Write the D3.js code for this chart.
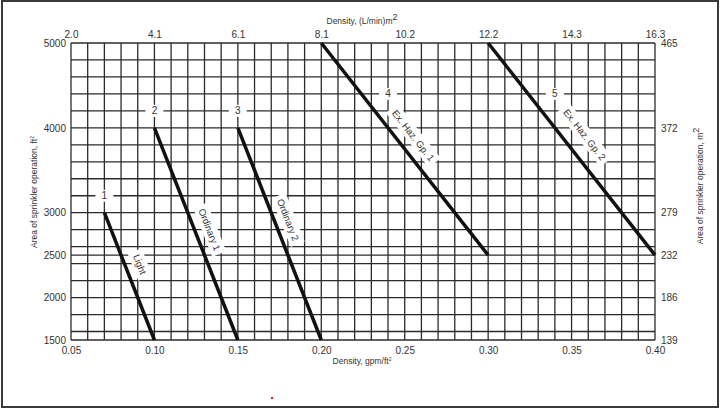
<!DOCTYPE html>
<html>
<head>
<meta charset="utf-8">
<script src="https://cdn.jsdelivr.net/npm/d3@7/dist/d3.min.js"></script>
<style>
  body { margin: 0; background: #fff; }
  svg { display: block; font-family: "Liberation Sans", Arial, sans-serif; }
</style>
</head>
<body>
<div id="chart"></div>
<script>
// bottom / top axis
const gpmTicks = [0.05, 0.10, 0.15, 0.20, 0.25, 0.30, 0.35, 0.40];
const lpmLabels = ["2.0", "4.1", "6.1", "8.1", "10.2", "12.2", "14.3", "16.3"];
// left / right axis
const ftTicks = [1500, 2000, 2500, 3000, 4000, 5000];
const m2Labels = ["139", "186", "232", "279", "372", "465"];

// design curves
const curveNumbers = ["1", "2", "3", "4", "5"];
const curveNames = ["Light", "Ordinary 1", "Ordinary 2", "Ex. Haz. Gp. 1", "Ex. Haz. Gp. 2"];
const startDensity = [0.07, 0.10, 0.15, 0.20, 0.30];
const startArea = [3000, 4000, 4000, 5000, 5000];
const endDensity = [0.10, 0.15, 0.20, 0.30, 0.40];
const endArea = [1500, 1500, 1500, 2500, 2500];
const numberDensity = [0.07, 0.10, 0.15, 0.24, 0.34];
const numberArea = [3200, 4200, 4200, 4400, 4400];
const nameArea = [2330, 2740, 2860, 3800, 3780];

const W = 722, H = 410;
const margin = { top: 43, right: 68, bottom: 70, left: 71 };

const svg = d3.select("#chart").append("svg")
    .attr("width", W)
    .attr("height", H);

svg.append("rect")
    .attr("x", 2).attr("y", 1)
    .attr("width", 716).attr("height", 406)
    .attr("fill", "#fff")
    .attr("stroke", "#3a3a3a")
    .attr("stroke-width", 2);

const x = d3.scaleLinear().domain([0.05, 0.40]).range([margin.left, W - margin.right + 1]);
const y = d3.scaleLinear().domain([1500, 5000]).range([H - margin.bottom, margin.top]);

const gridColor = "#2b2b2b";
const grid = svg.append("g");

const vLines = d3.range(5, 41).map(i => i / 100);
grid.selectAll(".v").data(vLines).enter().append("line")
    .attr("x1", d => x(d)).attr("x2", d => x(d))
    .attr("y1", y(5000)).attr("y2", y(1500))
    .attr("stroke", gridColor)
    .attr("stroke-width", 1.3);

const hLines = d3.range(1600, 5001, 200).concat([1500, 2500]);
grid.selectAll(".h").data(hLines).enter().append("line")
    .attr("x1", x(0.05)).attr("x2", x(0.40))
    .attr("y1", d => y(d)).attr("y2", d => y(d))
    .attr("stroke", gridColor)
    .attr("stroke-width", 1.3);

// axes
const fontSize = "10px";
const tickColor = "#333";

const styleAxis = g => {
    g.select(".domain").remove();
    g.selectAll(".tick line").remove();
    g.selectAll("text").attr("font-size", fontSize).attr("fill", tickColor)
        .attr("font-family", "'Liberation Sans', Arial, sans-serif");
};

svg.append("g")
    .attr("transform", `translate(0,${y(1500)})`)
    .call(d3.axisBottom(x).tickValues(gpmTicks).tickFormat(d3.format(".2f")).tickSize(0).tickPadding(7))
    .call(styleAxis);

svg.append("g")
    .attr("transform", `translate(0,${y(5000)})`)
    .call(d3.axisTop(x).tickValues(gpmTicks).tickFormat((d, i) => lpmLabels[i]).tickSize(0).tickPadding(5))
    .call(styleAxis);

svg.append("g")
    .attr("transform", `translate(${x(0.05)},0)`)
    .call(d3.axisLeft(y).tickValues(ftTicks).tickFormat(d3.format("d")).tickSize(0).tickPadding(5))
    .call(styleAxis);

svg.append("g")
    .attr("transform", `translate(${x(0.40)},0)`)
    .call(d3.axisRight(y).tickValues(ftTicks).tickFormat((d, i) => m2Labels[i]).tickSize(0).tickPadding(6))
    .call(styleAxis);

// axis titles
svg.append("text")
    .attr("x", 362).attr("y", 24)
    .attr("text-anchor", "middle")
    .attr("font-size", "8.5px").attr("fill", tickColor)
    .html('Density, (L/min)m<tspan dy="-4" font-size="9px">2</tspan>');

svg.append("text")
    .attr("x", 362).attr("y", 364)
    .attr("text-anchor", "middle")
    .attr("font-size", "8.5px").attr("fill", tickColor)
    .html('Density, gpm/ft<tspan dy="-3" font-size="5px">2</tspan>');

svg.append("text")
    .attr("transform", "translate(37,192) rotate(-90)")
    .attr("text-anchor", "middle")
    .attr("font-size", "8.5px").attr("fill", tickColor)
    .html('Area of sprinkler operation, ft<tspan dy="-3" font-size="5px">2</tspan>');

svg.append("text")
    .attr("transform", "translate(703,186) rotate(-90)")
    .attr("text-anchor", "middle")
    .attr("font-size", "8.5px").attr("fill", tickColor)
    .html('Area of sprinkler operation, m<tspan dy="-4" font-size="9px">2</tspan>');

// curve number labels (knock out the gridline)
const numG = svg.append("g");
curveNumbers.forEach((n, i) => {
    const cx = x(numberDensity[i]), cy = y(numberArea[i]);
    numG.append("rect")
        .attr("x", cx - 9).attr("y", cy - 6)
        .attr("width", 18).attr("height", 12)
        .attr("fill", "#fff");
    numG.append("text")
        .attr("x", cx).attr("y", cy)
        .attr("dy", "0.35em")
        .attr("text-anchor", "middle")
        .attr("font-size", "10px").attr("fill", tickColor)
        .text(n);
});

// curves
const curves = curveNames.map((name, i) => ({
    name,
    x1: startDensity[i], y1: startArea[i],
    x2: endDensity[i], y2: endArea[i],
    labelArea: nameArea[i]
}));

svg.append("g").selectAll("line").data(curves).enter().append("line")
    .attr("x1", d => x(d.x1)).attr("y1", d => y(d.y1))
    .attr("x2", d => x(d.x2)).attr("y2", d => y(d.y2))
    .attr("stroke", "#111")
    .attr("stroke-width", 3.5)
    .attr("stroke-linecap", "butt");

// rotated curve names
const offsets = [14, 14, 13, 15, 19];
const nameG = svg.append("g");
curves.forEach((d, i) => {
    const px1 = x(d.x1), py1 = y(d.y1), px2 = x(d.x2), py2 = y(d.y2);
    const t = (d.y1 - d.labelArea) / (d.y1 - d.y2);
    const lx = px1 + t * (px2 - px1), ly = py1 + t * (py2 - py1);
    const len = Math.hypot(px2 - px1, py2 - py1);
    const ux = (px2 - px1) / len, uy = (py2 - py1) / len;
    // normal on the upper-right side of the line
    const nx = uy, ny = -ux;
    const cx = lx + nx * offsets[i], cy = ly + ny * offsets[i];
    const angle = Math.atan2(py2 - py1, px2 - px1) * 180 / Math.PI;
    const g = nameG.append("g").attr("transform", `translate(${cx},${cy}) rotate(${angle})`);
    const txt = g.append("text")
        .attr("text-anchor", "middle")
        .attr("dy", "0.35em")
        .attr("font-size", "9.5px").attr("fill", tickColor)
        .text(d.name);
    const bb = txt.node().getBBox();
    g.insert("rect", "text")
        .attr("x", bb.x - 4).attr("y", bb.y - 2)
        .attr("width", bb.width + 8).attr("height", bb.height + 4)
        .attr("fill", "#fff");
});

// stray mark at bottom of the scan
svg.append("circle").attr("cx", 272).attr("cy", 398).attr("r", 1.2).attr("fill", "#d22");
</script>
</body>
</html>
